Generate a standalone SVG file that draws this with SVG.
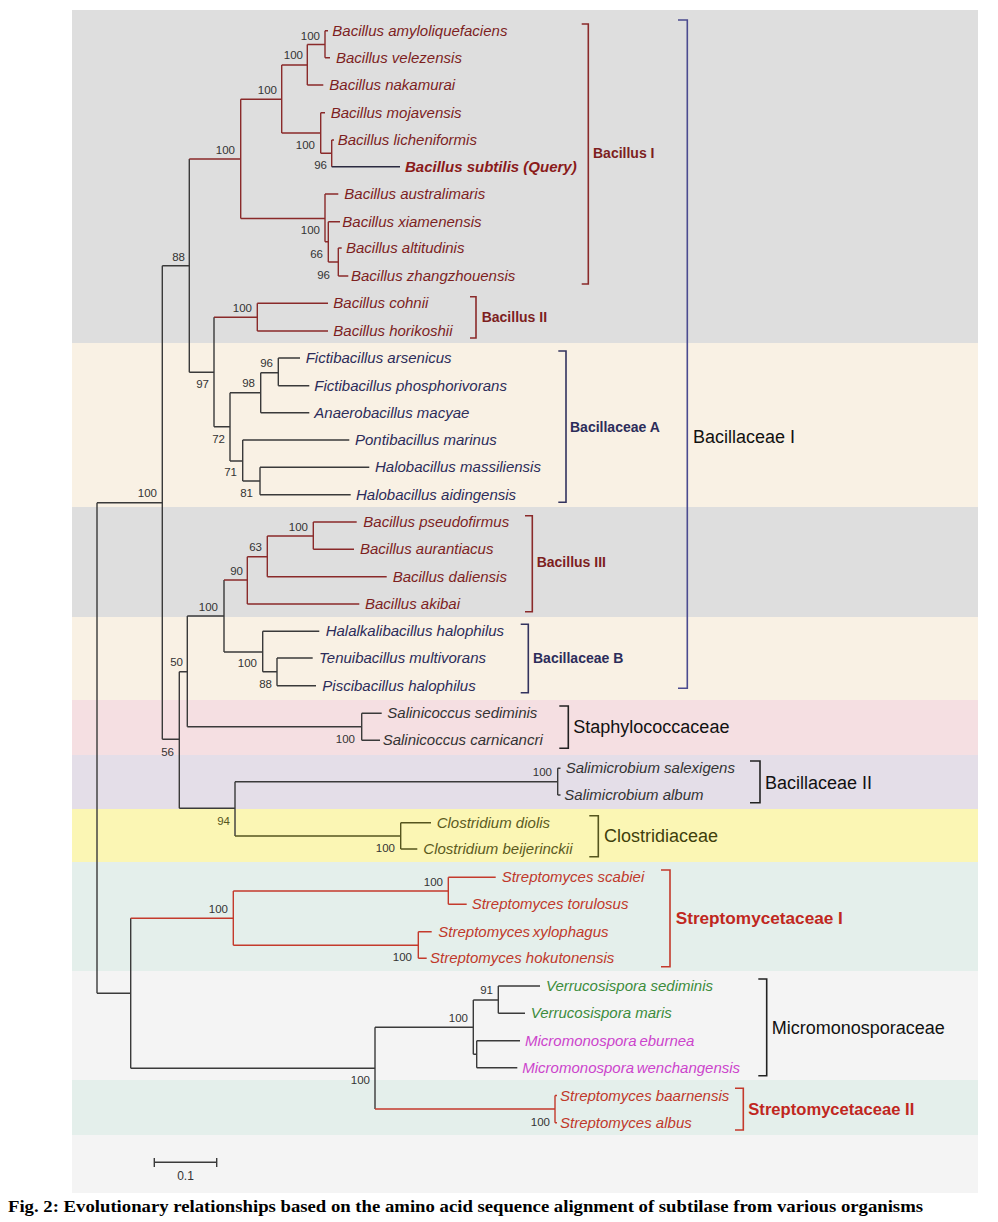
<svg xmlns="http://www.w3.org/2000/svg" width="998" height="1222" viewBox="0 0 998 1222">
<style>
.ln{fill:none;stroke:#3a3a3a;stroke-width:1.4}
.lr{fill:none;stroke:#8a2a2a;stroke-width:1.4}
.ls{fill:none;stroke:#c43a2c;stroke-width:1.4}
.lo{fill:none;stroke:#55551e;stroke-width:1.4}
.lq{fill:none;stroke:#2a2a40;stroke-width:1.4}
.bn{fill:none;stroke:#33335e;stroke-width:1.6}
.bb{fill:none;stroke:#4b4b8f;stroke-width:1.6}
.bk{fill:none;stroke:#222;stroke-width:1.6}
.leaf{font-family:"Liberation Sans",Arial,sans-serif;font-size:15px;font-style:italic}
.bs{font-family:"Liberation Sans",Arial,sans-serif;font-size:11.5px;fill:#333;text-anchor:end}
.cl{font-family:"Liberation Sans",Arial,sans-serif;font-size:14px;font-weight:bold}
.cb{font-family:"Liberation Sans",Arial,sans-serif;font-size:18px}
.cs{font-family:"Liberation Sans",Arial,sans-serif;font-weight:bold;fill:#c0271e}
.red{fill:#7d1f1f}
.nav{fill:#2c2c5a}
.dk{fill:#333}
.olv{fill:#5b5b1e}
.str{fill:#c0392b}
.grn{fill:#3c8c3c}
.mag{fill:#cc44cc}
.tight{word-spacing:-1.5px}
</style>
<g id="background">
<rect x="0" y="0" width="998" height="1222" fill="#ffffff"/>
<rect x="72" y="10" width="906" height="333" fill="#dedede"/>
<rect x="72" y="343" width="906" height="164" fill="#f9f1e4"/>
<rect x="72" y="507" width="906" height="110" fill="#dedede"/>
<rect x="72" y="617" width="906" height="83" fill="#f9f1e4"/>
<rect x="72" y="700" width="906" height="55" fill="#f5dfe2"/>
<rect x="72" y="755" width="906" height="54" fill="#e4dee8"/>
<rect x="72" y="809" width="906" height="53" fill="#fbf6b4"/>
<rect x="72" y="862" width="906" height="109" fill="#e4efeb"/>
<rect x="72" y="971" width="906" height="109" fill="#f4f4f4"/>
<rect x="72" y="1080" width="906" height="55" fill="#e4efeb"/>
<rect x="72" y="1135" width="906" height="58" fill="#f4f4f4"/>
</g>
<g id="connectors">
<path class="ln" d="M97 502.7 V993.3 M97 502.7 H162.3 M97 993.3 H130.7"/>
<path class="ln" d="M162.3 265.7 V739.3 M162.3 265.7 H189.3 M162.3 739.3 H179.3"/>
<path class="ln" d="M189.3 159 V372.3 M189.3 372.3 H214"/>
<path class="lr" d="M189.3 159 H240.7 M240.7 99.3 V218.5 M240.7 99.3 H281.7 M240.7 218.5 H325"/>
<path class="lr" d="M281.7 65 V133 M281.7 65 H307.3 M281.7 133 H320.7"/>
<path class="lr" d="M307.3 44.5 V85 M307.3 44.5 H325 M307.3 85 H323.3"/>
<path class="lr" d="M325 30.7 V57.7 M325 30.7 H328 M325 57.7 H330"/>
<path class="lr" d="M320.7 112.7 V153.3 M320.7 112.7 H325 M320.7 153.3 H331.7"/>
<path class="lr" d="M331.7 140 V166.7 M331.7 140 H334"/>
<path class="lq" d="M331.7 166.7 H400"/>
<path class="lr" d="M325 194 V241.8 M325 194 H338.3 M325 241.8 H328.3"/>
<path class="lr" d="M328.3 221.7 V262 M328.3 221.7 H340 M328.3 262 H338.3"/>
<path class="lr" d="M338.3 248 V276 M338.3 248 H341.7 M338.3 276 H348.3"/>
<path class="ln" d="M214 317.3 V426.7 M214 426.7 H230"/>
<path class="lr" d="M214 317.3 H257.3 M257.3 303.3 V331 M257.3 303.3 H328 M257.3 331 H328"/>
<path class="ln" d="M230 392.7 V461 M230 392.7 H260.7 M230 461 H242.7"/>
<path class="ln" d="M260.7 372.7 V412.7 M260.7 372.7 H278.3 M260.7 412.7 H309.3"/>
<path class="ln" d="M278.3 358 V385.7 M278.3 358 H300 M278.3 385.7 H309.3"/>
<path class="ln" d="M242.7 440 V481 M242.7 440 H349.3 M242.7 481 H260"/>
<path class="ln" d="M260 467.3 V494.7 M260 467.3 H369.3 M260 494.7 H350.7"/>
<path class="ln" d="M179.3 671.7 V808.3 M179.3 671.7 H187.3 M179.3 808.3 H235"/>
<path class="ln" d="M187.3 616 V726.7 M187.3 616 H224 M187.3 726.7 H361.7"/>
<path class="ln" d="M224 580 V652 M224 652 H262.7"/>
<path class="lr" d="M224 580 H247.3 M247.3 556.7 V604 M247.3 556.7 H267.3 M247.3 604 H359.3"/>
<path class="lr" d="M267.3 536 V576.7 M267.3 536 H313.3 M267.3 576.7 H386.7"/>
<path class="lr" d="M313.3 522 V549.3 M313.3 522 H356.7 M313.3 549.3 H354"/>
<path class="ln" d="M262.7 631.3 V671.7 M262.7 631.3 H319.3 M262.7 671.7 H277"/>
<path class="ln" d="M277 658 V685.7 M277 658 H312.7 M277 685.7 H316"/>
<path class="ln" d="M361.7 713.3 V740.3 M361.7 713.3 H381.7 M361.7 740.3 H380"/>
<path class="ln" d="M235 781.7 V836 M235 781.7 H557.7"/>
<path class="ln" d="M557.7 768.3 V795 M557.7 768.3 H560.5 M557.7 795 H560.5"/>
<path class="lo" d="M235 836 H400.7 M400.7 822.7 V849 M400.7 822.7 H431 M400.7 849 H417.3"/>
<path class="ln" d="M130.7 918.3 V1068.3 M130.7 1068.3 H375"/>
<path class="ls" d="M130.7 918.3 H233.3 M233.3 891 V945.3 M233.3 891 H448.3 M233.3 945.3 H418.3"/>
<path class="ls" d="M448.3 877.3 V904.3 M448.3 877.3 H495.7 M448.3 904.3 H466.7"/>
<path class="ls" d="M418.3 931.7 V958.3 M418.3 931.7 H431.7 M418.3 958.3 H426.7"/>
<path class="ln" d="M375 1027.3 V1109 M375 1027.3 H473.3"/>
<path class="ln" d="M473.3 1000 V1054.2 M473.3 1000 H498.3 M473.3 1054.2 H476.7"/>
<path class="ln" d="M498.3 986 V1013.3 M498.3 986 H540 M498.3 1013.3 H525"/>
<path class="ln" d="M476.7 1040.7 V1067.7 M476.7 1040.7 H520 M476.7 1067.7 H517.3"/>
<path class="ls" d="M375 1109 H555 M555 1095.5 V1122.7 M555 1095.5 H557 M555 1122.7 H557"/>
</g>
<g id="bootstrap">
<g id="n-amy"><text class="bs" x="320" y="40">100</text></g>
<g id="n-nak"><text class="bs" x="303" y="59">100</text></g>
<g id="n-bac1a"><text class="bs" x="277" y="94">100</text></g>
<g id="n-moj"><text class="bs" x="315" y="149">100</text></g>
<g id="n-sub"><text class="bs" x="327" y="169">96</text></g>
<g id="n-bac1"><text class="bs" x="235" y="154">100</text></g>
<g id="n-aus"><text class="bs" x="320" y="234">100</text></g>
<g id="n-xia"><text class="bs" x="323" y="258">66</text></g>
<g id="n-alt"><text class="bs" x="330" y="279">96</text></g>
<g id="n-88"><text class="bs" x="185" y="261">88</text></g>
<g id="n-bac2"><text class="bs" x="252" y="312">100</text></g>
<g id="n-97"><text class="bs" x="209" y="388">97</text></g>
<g id="n-fic"><text class="bs" x="273" y="367">96</text></g>
<g id="n-98"><text class="bs" x="255" y="387">98</text></g>
<g id="n-72"><text class="bs" x="225" y="443">72</text></g>
<g id="n-71"><text class="bs" x="237" y="476">71</text></g>
<g id="n-81"><text class="bs" x="253" y="497">81</text></g>
<g id="n-ing"><text class="bs" x="157" y="497">100</text></g>
<g id="n-pse"><text class="bs" x="308" y="531">100</text></g>
<g id="n-63"><text class="bs" x="262" y="551">63</text></g>
<g id="n-90"><text class="bs" x="243" y="575">90</text></g>
<g id="n-bac3b"><text class="bs" x="218" y="611">100</text></g>
<g id="n-50"><text class="bs" x="183" y="666">50</text></g>
<g id="n-bacb"><text class="bs" x="257" y="667">100</text></g>
<g id="n-88b"><text class="bs" x="272" y="688">88</text></g>
<g id="n-sal"><text class="bs" x="355" y="743">100</text></g>
<g id="n-56"><text class="bs" x="174" y="756">56</text></g>
<g id="n-slm"><text class="bs" x="552" y="776">100</text></g>
<g id="n-94"><text class="bs" x="230" y="825" style="fill:#55551e">94</text></g>
<g id="n-clo"><text class="bs" x="395" y="852">100</text></g>
<g id="n-sca"><text class="bs" x="443" y="886">100</text></g>
<g id="n-str1"><text class="bs" x="228" y="913">100</text></g>
<g id="n-xyl"><text class="bs" x="412" y="961">100</text></g>
<g id="n-91"><text class="bs" x="493" y="994">91</text></g>
<g id="n-mic"><text class="bs" x="468" y="1022">100</text></g>
<g id="n-out"><text class="bs" x="370" y="1084">100</text></g>
<g id="n-str2"><text class="bs" x="550" y="1126">100</text></g>
</g>
<g id="leaves">
<g id="l1"><text class="leaf red" x="332.3" y="35.7">Bacillus amyloliquefaciens</text></g>
<g id="l2"><text class="leaf red" x="336" y="62.7">Bacillus velezensis</text></g>
<g id="l3"><text class="leaf red" x="329.3" y="90">Bacillus nakamurai</text></g>
<g id="l4"><text class="leaf red" x="330.7" y="117.7">Bacillus mojavensis</text></g>
<g id="l5"><text class="leaf red" x="337.7" y="145">Bacillus licheniformis</text></g>
<g id="l6"><text class="leaf red" x="405" y="172" font-weight="bold" style="fill:#8a1a1a">Bacillus subtilis (Query)</text></g>
<g id="l7"><text class="leaf red" x="344.3" y="199">Bacillus australimaris</text></g>
<g id="l8"><text class="leaf red" x="342.3" y="226.7">Bacillus xiamenensis</text></g>
<g id="l9"><text class="leaf red" x="346" y="253">Bacillus altitudinis</text></g>
<g id="l10"><text class="leaf red" x="351" y="281">Bacillus zhangzhouensis</text></g>
<g id="l11"><text class="leaf red" x="333.3" y="308.3">Bacillus cohnii</text></g>
<g id="l12"><text class="leaf red" x="333.3" y="336">Bacillus horikoshii</text></g>
<g id="l13"><text class="leaf nav" x="305.7" y="363">Fictibacillus arsenicus</text></g>
<g id="l14"><text class="leaf nav" x="314.3" y="390.7">Fictibacillus phosphorivorans</text></g>
<g id="l15"><text class="leaf nav" x="314.3" y="417.7">Anaerobacillus macyae</text></g>
<g id="l16"><text class="leaf nav" x="355" y="445">Pontibacillus marinus</text></g>
<g id="l17"><text class="leaf nav" x="375" y="472.3">Halobacillus massiliensis</text></g>
<g id="l18"><text class="leaf nav" x="356" y="499.7">Halobacillus aidingensis</text></g>
<g id="l19"><text class="leaf red" x="363.3" y="527">Bacillus pseudofirmus</text></g>
<g id="l20"><text class="leaf red" x="360" y="554.3">Bacillus aurantiacus</text></g>
<g id="l21"><text class="leaf red" x="392.7" y="581.7">Bacillus daliensis</text></g>
<g id="l22"><text class="leaf red" x="365" y="609">Bacillus akibai</text></g>
<g id="l23"><text class="leaf nav" x="325.7" y="636.3">Halalkalibacillus halophilus</text></g>
<g id="l24"><text class="leaf nav" x="319" y="663">Tenuibacillus multivorans</text></g>
<g id="l25"><text class="leaf nav" x="322.3" y="690.7">Piscibacillus halophilus</text></g>
<g id="l26"><text class="leaf dk" x="387.3" y="718.3">Salinicoccus sediminis</text></g>
<g id="l27"><text class="leaf dk" x="382.7" y="745.3">Salinicoccus carnicancri</text></g>
<g id="l28"><text class="leaf dk" x="565.7" y="773.3">Salimicrobium salexigens</text></g>
<g id="l29"><text class="leaf dk" x="564.3" y="800">Salimicrobium album</text></g>
<g id="l30"><text class="leaf olv" x="436.7" y="827.7">Clostridium diolis</text></g>
<g id="l31"><text class="leaf olv" x="423.3" y="854">Clostridium beijerinckii</text></g>
<g id="l32"><text class="leaf str" x="501.7" y="882.3">Streptomyces scabiei</text></g>
<g id="l33"><text class="leaf str" x="471.7" y="909.3">Streptomyces torulosus</text></g>
<g id="l34"><text class="leaf str tight" x="438.3" y="936.7">Streptomyces xylophagus</text></g>
<g id="l35"><text class="leaf str" x="430" y="963.3">Streptomyces hokutonensis</text></g>
<g id="l36"><text class="leaf grn" x="546" y="991">Verrucosispora sediminis</text></g>
<g id="l37"><text class="leaf grn" x="530.7" y="1018.3">Verrucosispora maris</text></g>
<g id="l38"><text class="leaf mag tight" x="525" y="1045.7">Micromonospora eburnea</text></g>
<g id="l39"><text class="leaf mag tight" x="522.3" y="1072.7">Micromonospora wenchangensis</text></g>
<g id="l40"><text class="leaf str" x="560" y="1100.5">Streptomyces baarnensis</text></g>
<g id="l41"><text class="leaf str" x="560" y="1127.7">Streptomyces albus</text></g>
</g>
<g id="clades">
<g id="c-bac1"><path class="lr" style="stroke-width:1.6" d="M581.7 24 H588.3 V284 H581.7"/><text class="cl red" x="593" y="158">Bacillus I</text></g>
<g id="c-bac2"><path class="lr" style="stroke-width:1.6" d="M470 296.7 H476 V338 H470"/><text class="cl red" x="481.7" y="322">Bacillus II</text></g>
<g id="c-bacI"><path class="bb" d="M678 20 H687.3 V688.3 H678"/><text class="cb" x="693" y="443" fill="#111">Bacillaceae I</text></g>
<g id="c-baca"><path class="bn" d="M558.3 351 H566 V502.3 H558.3"/><text class="cl nav" x="570" y="431.7">Bacillaceae A</text></g>
<g id="c-bac3"><path class="lr" style="stroke-width:1.6" d="M525 515.7 H532.3 V611.7 H525"/><text class="cl red" x="536.7" y="567.3">Bacillus III</text></g>
<g id="c-bacb"><path class="bn" d="M520.7 624.3 H528.3 V692.7 H520.7"/><text class="cl nav" x="533" y="663.3">Bacillaceae B</text></g>
<g id="c-sta"><path class="bk" d="M559.3 706 H568.3 V748.3 H559.3"/><text class="cb" x="573.3" y="733" fill="#111">Staphylococcaceae</text></g>
<g id="c-bacII"><path class="bk" d="M750 761 H760 V802.7 H750"/><text class="cb" x="765" y="788.8" fill="#111">Bacillaceae II</text></g>
<g id="c-clo"><path class="lo" style="stroke-width:1.6" d="M589.3 815.7 H598.3 V856.7 H589.3"/><text class="cb" x="604" y="842" fill="#3f3f0c">Clostridiaceae</text></g>
<g id="c-str1"><path class="ls" style="stroke-width:1.6" d="M661 870 H670 V966.7 H661"/><text class="cs" x="675.7" y="923.5" font-size="17.2">Streptomycetaceae I</text></g>
<g id="c-mic"><path class="bk" d="M758.3 979 H766.7 V1075.7 H758.3"/><text class="cb" x="771.7" y="1034" fill="#111">Micromonosporaceae</text></g>
<g id="c-str2"><path class="ls" style="stroke-width:1.6" d="M735 1088.3 H743.3 V1130 H735"/><text class="cs" x="748.3" y="1115.3" font-size="16.6">Streptomycetaceae II</text></g>
</g>
<g id="scale">
<path class="ln" d="M154.3 1162.3 H216.7 M154.3 1158 V1167 M216.7 1158 V1167"/>
<text x="185.5" y="1180" font-family="Liberation Sans, Arial, sans-serif" font-size="12" fill="#333" text-anchor="middle">0.1</text>
</g>
<text x="8" y="1212" font-family="Liberation Serif, Times New Roman, serif" font-size="16" font-weight="bold" fill="#000" textLength="915" lengthAdjust="spacingAndGlyphs">Fig. 2: Evolutionary relationships based on the amino acid sequence alignment of subtilase from various organisms</text>
</svg>
